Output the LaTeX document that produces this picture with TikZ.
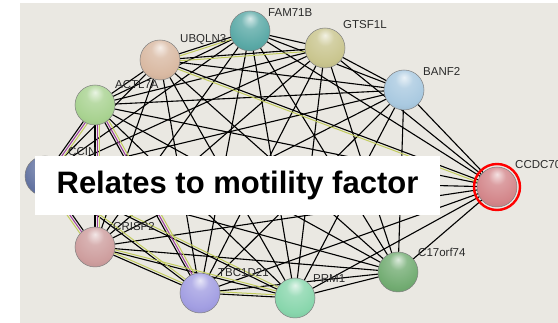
\documentclass[tikz,border=0pt]{standalone}
\usepackage{fontspec}
\setmainfont{Liberation Sans}
\usetikzlibrary{calc}
\pgfdeclarelayer{bg}
\pgfdeclarelayer{links}
\pgfsetlayers{bg,links,main}

\definecolor{canvas}{HTML}{EAE8E2}
\definecolor{evyellow}{HTML}{C2CC5E}
\definecolor{evpurple}{HTML}{9A3C9A}
\definecolor{labelgrey}{HTML}{2A2A2A}
% protein colours
\definecolor{cfam}{HTML}{5AA9A6}
\definecolor{cgts}{HTML}{C9C58E}
\definecolor{cubq}{HTML}{D9B9A2}
\definecolor{cact}{HTML}{A8D290}
\definecolor{cbanf}{HTML}{A9C9E0}
\definecolor{cccdc}{HTML}{D3868A}
\definecolor{cc17}{HTML}{72AC72}
\definecolor{cprm}{HTML}{88D6AC}
\definecolor{ctbc}{HTML}{A29EE2}
\definecolor{ccri}{HTML}{CE9E9E}
\definecolor{cccin}{HTML}{6474A2}
\colorlet{protcol}{gray}

% glossy sphere: pale highlight on top, soft body, darker rim
\pgfdeclareradialshading[protcol]{protball}{\pgfqpoint{0bp}{16bp}}{%
  color(0bp)=(protcol!25!white);
  color(11bp)=(protcol!80!white);
  color(28bp)=(protcol);
  color(44bp)=(protcol!85!black);
  color(56bp)=(protcol!55!black);
  color(70bp)=(protcol!40!black)}

\tikzset{
  protein/.style={circle, minimum size=40pt, inner sep=0pt,
    /utils/exec={\colorlet{protcol}{#1}}, shading=protball,
    draw=black!50, line width=0.5pt},
  plabel/.style={anchor=west, inner sep=0pt, text=labelgrey,
    font=\fontsize{11.5}{12}\selectfont},
  link/.style={draw=black, line width=1.1pt},
  evlink/.style={draw=#1, line width=1pt},
  highlight/.style={circle, draw=red, line width=2.4pt, minimum size=46pt, inner sep=0pt},
  notebox/.style={fill=white, draw=none, minimum width=405pt, minimum height=59pt,
    inner sep=0pt, font=\fontsize{31}{33}\bfseries\selectfont}
}

% parallel evidence line, shifted sideways from the a--b link
\newcommand\evidence[4]{%
  \path[evlink=#3] ($(#1.center)!#4!90:(#2.center)$) -- ($(#2.center)!#4!-90:(#1.center)$);}

\begin{document}
\begin{tikzpicture}[x=1pt,y=-1pt]
\useasboundingbox (0,0) rectangle (558,323);
\clip (0,0) rectangle (558,323);

\begin{pgfonlayer}{bg}
  \fill[canvas] (20,3) rectangle (558,323);
\end{pgfonlayer}

% proteins
\node[protein=cfam]  (fam)  at (250,31)  {};
\node[protein=cgts]  (gts)  at (325,48)  {};
\node[protein=cubq]  (ubq)  at (160,60)  {};
\node[protein=cact]  (act)  at (95,105)  {};
\node[protein=cbanf] (banf) at (404,90)  {};
\node[protein=cccdc] (ccdc) at (497,187) {};
\node[protein=cc17]  (c17)  at (398,272) {};
\node[protein=cprm]  (prm)  at (295,298) {};
\node[protein=ctbc]  (tbc)  at (200,293) {};
\node[protein=ccri]  (cri)  at (95,247)  {};
\node[protein=cccin] (ccin) at (45,176)  {};
\node[highlight] (ring) at (ccdc.center) {};

% interaction network
\begin{pgfonlayer}{links}
  \foreach \a/\b in {
    fam/gts, fam/ubq, fam/act, fam/banf, fam/ccdc, fam/c17, fam/prm, fam/tbc, fam/cri, fam/ccin,
    gts/ubq, gts/act, gts/banf, gts/ccdc, gts/c17, gts/prm, gts/tbc, gts/cri, gts/ccin,
    ubq/act, ubq/banf, ubq/ccdc, ubq/c17, ubq/prm, ubq/tbc, ubq/cri, ubq/ccin,
    act/banf, act/ccdc, act/c17, act/prm, act/tbc, act/cri, act/ccin,
    banf/ccdc, banf/c17, banf/prm, banf/tbc, banf/cri, banf/ccin,
    ccdc/c17, ccdc/prm, ccdc/tbc, ccdc/cri, ccdc/ccin,
    c17/prm, c17/tbc, c17/cri, c17/ccin,
    prm/tbc, prm/cri, prm/ccin,
    tbc/cri, tbc/ccin,
    cri/ccin}
    \path[link] (\a.center) -- (\b.center);
  \evidence{ubq}{fam}{evyellow}{-2.2pt}
  \evidence{ubq}{gts}{evyellow}{-2.2pt}
  \evidence{ubq}{ccdc}{evyellow}{-2.2pt}
  \evidence{act}{cri}{evpurple}{2.2pt}
  \evidence{act}{cri}{evyellow}{4.4pt}
  \evidence{act}{ccin}{evpurple}{2.2pt}
  \evidence{act}{ccin}{evyellow}{4.4pt}
  \evidence{act}{tbc}{evpurple}{2.2pt}
  \evidence{act}{tbc}{evyellow}{4.4pt}
  \evidence{ccin}{cri}{evpurple}{-2.2pt}
  \evidence{ccin}{cri}{evyellow}{-4.4pt}
  \evidence{ccin}{tbc}{evyellow}{2.2pt}
  \evidence{ccin}{prm}{evyellow}{2.2pt}
  \evidence{cri}{tbc}{evyellow}{2.2pt}
  \evidence{cri}{prm}{evyellow}{2.2pt}
  \evidence{tbc}{prm}{evyellow}{2.2pt}
\end{pgfonlayer}

% protein names
\node[plabel] (lfam)  at (268,13)  {FAM71B};
\node[plabel] (lgts)  at (343,25)  {GTSF1L};
\node[plabel] (lubq)  at (180,40)  {UBQLN3};
\node[plabel] (lact)  at (115,85)  {ACTL7A};
\node[plabel] (lbanf) at (423,71)  {BANF2};
\node[plabel] (lccdc) at (515,165) {CCDC70};
\node[plabel] (lc17)  at (418,252) {C17orf74};
\node[plabel] (lprm)  at (313,279) {PRM1};
\node[plabel] (ltbc)  at (218,273) {TBC1D21};
\node[plabel] (lcri)  at (113,227) {CRISP2};
\node[plabel] (lccin) at (68,152)  {CCIN};

% annotation
\node[notebox] (note) at (237.5,185.5) {Relates to motility factor};
\end{tikzpicture}
\end{document}
